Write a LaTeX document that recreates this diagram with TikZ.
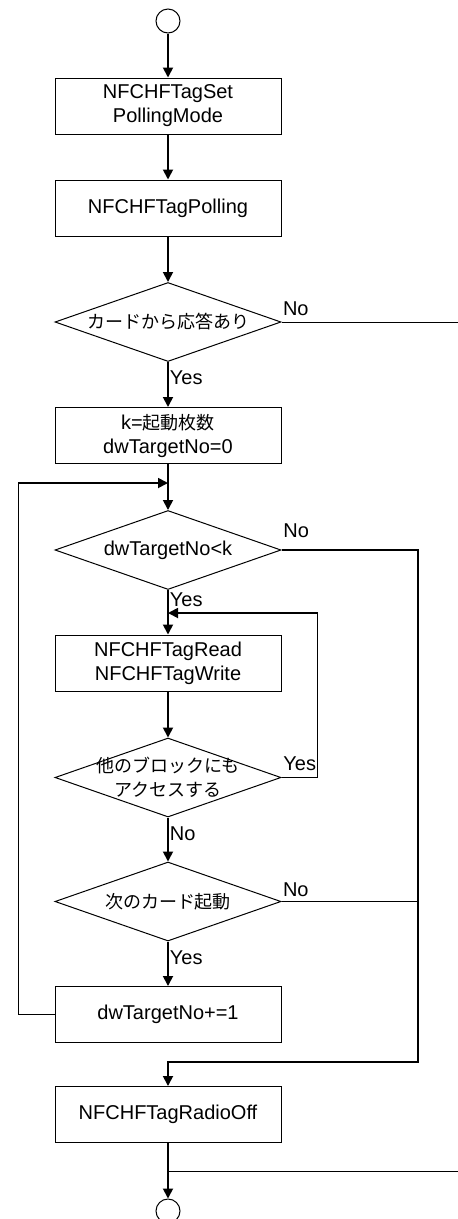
\documentclass[tikz,border=0pt]{standalone}
\usepackage{fontspec}
\setmainfont{Liberation Sans}
\newfontfamily\jp[Scale=0.9]{Noto Sans CJK JP}
\usepackage{tikz}
\usetikzlibrary{shapes, positioning, arrows.meta, calc}

\begin{document}
\begin{tikzpicture}[x=1pt, y=-1pt,
	every node/.style={font=\fontsize{20}{24}\selectfont},
	jptext/.style={font=\fontsize{20}{24}\selectfont\jp, align=center},
	proc/.style={draw, line width=1pt, minimum width=226pt, minimum height=56pt, align=center, inner sep=0pt},
	decision/.style={draw, diamond, line width=1pt, minimum width=226pt, minimum height=79pt, inner sep=0pt},
	terminal/.style={draw, circle, line width=1pt, minimum size=24pt, inner sep=0pt},
	flow/.style={line width=1.8pt, -{Triangle[length=10pt,width=10pt]}},
	wire/.style={line width=1.8pt},
	thinwire/.style={line width=1pt},
	ybelow/.style={anchor=north west, inner sep=1pt, yshift=-7pt},
	yright/.style={anchor=south west, inner sep=1pt, yshift=5pt}]
		\useasboundingbox (0,0) rectangle (458,1219);
		
		% main column
		\node[terminal] (start) at (168,21) {};
		\node[proc] (setmode) at (168,106) {NFCHFTagSet\\PollingMode};
		\node[proc] (polling) at (168,208) {NFCHFTagPolling};
		\node[decision, label={[jptext]center:{カードから応答あり}}] (resp) at (168,322) {};
		\node[proc] (init) at (168,435.5) {k={\jp 起動枚数}\\dwTargetNo=0};
		\node[decision, label=center:{dwTargetNo<k}] (cnt) at (168,550) {};
		\node[proc] (rw) at (168,663) {NFCHFTagRead\\NFCHFTagWrite};
		\node[decision, label={[jptext]center:{他のブロックにも\\アクセスする}}] (other) at (168,777.5) {};
		\node[decision, label={[jptext]center:{次のカード起動}}] (next) at (168,901.5) {};
		\node[proc] (incr) at (168,1014.5) {dwTargetNo+=1};
		\node[proc] (radio) at (168,1114.5) {NFCHFTagRadioOff};
		\node[terminal] (stop) at (168,1211) {};
		
		% joints
		\coordinate (loopin) at (168,483);
		\coordinate (rwin) at (168,613);
		\coordinate (merge) at (418,1062);
		\coordinate (split) at (168,1171);
		\coordinate (offa) at (458,322);
		\coordinate (offb) at (458,1171);
		
		\draw[flow] (start) -- (setmode);
		\draw[flow] (setmode) -- (polling);
		\draw[flow] (polling) -- (resp);
		\draw[flow] (resp) -- node[pos=0, ybelow] {Yes} (init);
		\draw[thinwire] (resp.east) -- node[pos=0, yright] {No} (offa);
		\draw[flow] (init) -- (cnt);
		\draw[flow] (cnt) -- node[pos=0, ybelow, yshift=6pt] {Yes} (rw);
		\draw[flow] (cnt.east) -- node[pos=0, yright, yshift=5pt] {No} (cnt.east -| merge) -- (merge) -| (radio);
		\draw[flow] (rw) -- (other);
		\draw[flow] (other.east) -- node[pos=0, yright] {Yes} ++(36,0) |- (rwin);
		\draw[flow] (other) -- node[pos=0, ybelow] {No} (next);
		\draw[thinwire] (next.east) -- node[pos=0, yright, yshift=-2pt] {No} (next.east -| merge);
		\draw[flow] (next) -- node[pos=0, ybelow] {Yes} (incr);
		\draw[flow] (incr.west) -- ++(-36,0) |- (loopin);
		\draw[flow] (radio) -- (stop);
		\draw[thinwire] (split) -- (offb);
\end{tikzpicture}
\end{document}
